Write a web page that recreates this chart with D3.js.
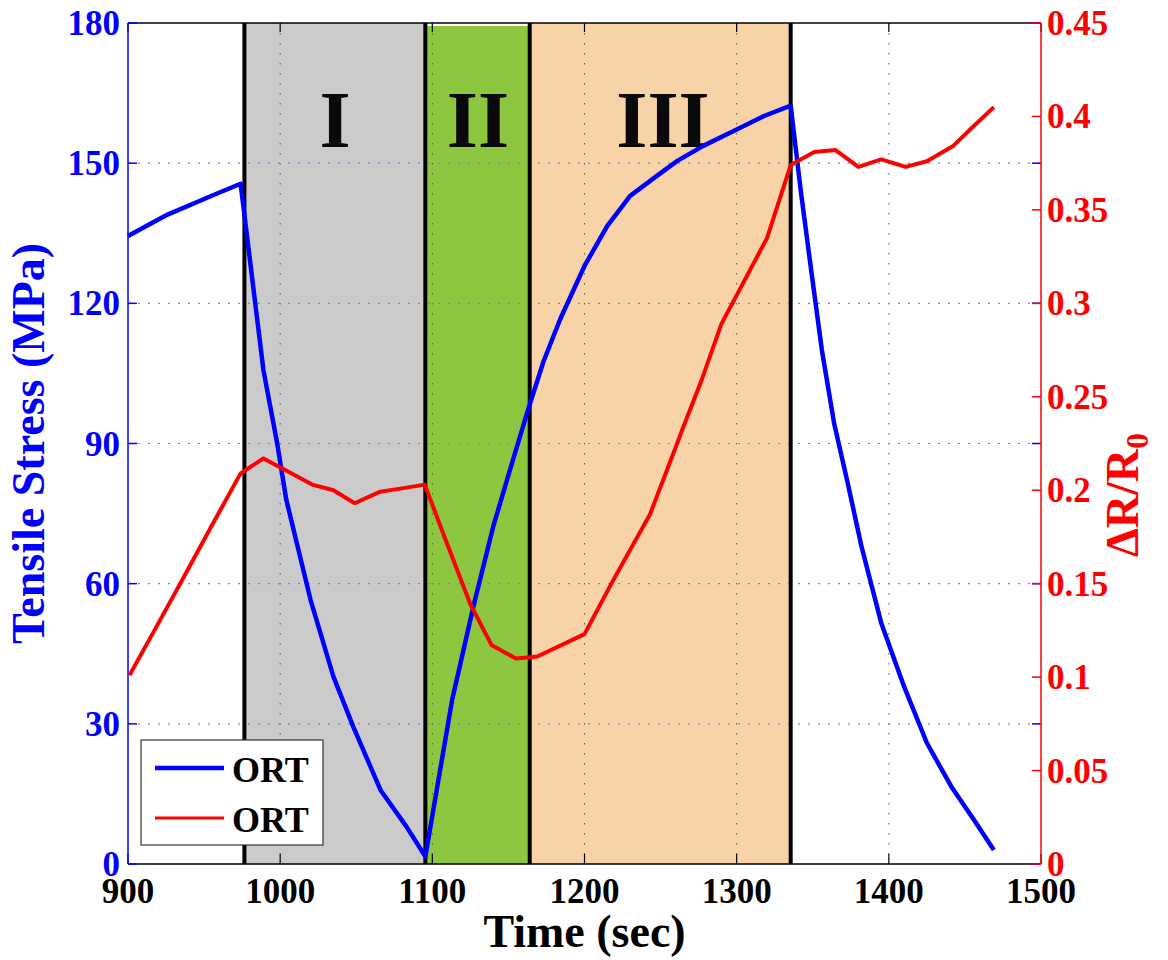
<html>
<head>
<script src="https://cdn.jsdelivr.net/npm/d3@7"></script>
<style>
  body { margin: 0; background: #fff; }
  text { font-family: "Liberation Serif", "Times New Roman", serif; font-weight: bold; }
</style>
</head>
<body>
<div id="chart"></div>
<script>
// stress curve (MPa) vs time (sec)
var stressTime = [900, 926, 957, 974, 989, 998, 1004, 1020, 1035, 1048, 1066, 1083, 1095.4,
  1113, 1127, 1140, 1153, 1163, 1173, 1184, 1200, 1215, 1230, 1246, 1261, 1278, 1298, 1318, 1335.5,
  1342, 1349, 1356, 1364, 1373, 1382, 1395, 1410, 1425, 1441, 1456, 1469]
var stressVals = [134.4, 139, 143.3, 145.6, 105.7, 90.1, 78, 56.5, 40.1, 29.4, 15.8, 8, 1.6,
  35.1, 55.1, 72.2, 86.5, 97.3, 107.5, 116.6, 128, 136.6, 143, 146.9, 150.5, 153.7, 156.9, 160.1, 162.3,
  144.4, 127, 110, 94.4, 81.5, 68, 51.6, 38, 25.9, 16.6, 9.4, 3]

// resistance change dR/R0 vs time (sec)
var resTime = [901, 916, 935, 955, 974, 989, 1003, 1021, 1035, 1049, 1065, 1080, 1095,
  1108, 1125, 1139, 1155, 1169, 1200, 1219, 1243, 1259, 1265, 1277, 1290, 1320, 1335.5,
  1351, 1365, 1380, 1395, 1411, 1425, 1442, 1456, 1469]
var resVals = [0.101, 0.123, 0.151, 0.181, 0.209, 0.217, 0.211, 0.203, 0.2, 0.193, 0.199, 0.201, 0.203,
  0.175, 0.139, 0.117, 0.110, 0.111, 0.123, 0.152, 0.187, 0.221, 0.234, 0.259, 0.289, 0.335, 0.374,
  0.381, 0.382, 0.373, 0.377, 0.373, 0.376, 0.384, 0.395, 0.405]

// stage boundaries (sec) and names
var stageEdges = [976.5, 1095.4, 1164, 1335.5]
var stageNames = ["I", "II", "III"]
var stageColors = ["#cbcbcb", "#8dc63f", "#f9d3a8"]

var xTicks = [900, 1000, 1100, 1200, 1300, 1400, 1500]
var leftTicks = [0, 30, 60, 90, 120, 150, 180]
var rightTicks = [0, 0.05, 0.1, 0.15, 0.2, 0.25, 0.3, 0.35, 0.4, 0.45]
var legendNames = ["ORT", "ORT"]

var W = 1168, H = 960
var pL = 128, pR = 1041, pT = 23, pB = 864

var x = d3.scaleLinear().domain([900, 1500]).range([pL, pR])
var yL = d3.scaleLinear().domain([0, 180]).range([pB, pT])
var yR = d3.scaleLinear().domain([0, 0.45]).range([pB, pT])

var svg = d3.select("#chart").append("svg")
  .attr("width", W).attr("height", H)

// stage fills
var stages = stageNames.map(function(n, i){
  return { name: n, x0: stageEdges[i], x1: stageEdges[i + 1], color: stageColors[i] }
})
svg.selectAll(".stage").data(stages).enter().append("rect")
  .attr("class", "stage")
  .attr("x", function(d){ return x(d.x0) })
  .attr("width", function(d){ return x(d.x1) - x(d.x0) })
  .attr("y", function(d, i){ return i == 1 ? pT + 3 : pT })
  .attr("height", function(d, i){ return i == 1 ? pB - pT - 3 : pB - pT })
  .style("fill", function(d){ return d.color })

// grid
svg.selectAll(".vgrid").data(xTicks.slice(1, -1)).enter().append("line")
  .attr("x1", function(d){ return x(d) }).attr("x2", function(d){ return x(d) })
  .attr("y1", pT).attr("y2", pB)
  .style("stroke", "#555").style("stroke-width", 1).style("stroke-dasharray", "1.5,8.5")
svg.selectAll(".hgrid").data(leftTicks.slice(1, -1)).enter().append("line")
  .attr("x1", pL).attr("x2", pR)
  .attr("y1", function(d){ return yL(d) }).attr("y2", function(d){ return yL(d) })
  .style("stroke", "#7a7aff").style("stroke-width", 1.2).style("stroke-dasharray", "2,8")

// stage boundaries
svg.selectAll(".edge").data(stageEdges).enter().append("line")
  .attr("x1", function(d){ return x(d) }).attr("x2", function(d){ return x(d) })
  .attr("y1", pT).attr("y2", pB)
  .style("stroke", "#000").style("stroke-width", 4)

// stage labels
svg.selectAll(".stagelabel").data(stages).enter().append("text")
  .attr("x", function(d, i){ return [335, 478, 663][i] })
  .attr("y", 147)
  .attr("text-anchor", "middle")
  .style("font-size", "80px").style("fill", "#0a0a0a")
  .text(function(d){ return d.name })

// frame
svg.append("line").attr("x1", pL).attr("x2", pR).attr("y1", pT).attr("y2", pT)
  .style("stroke", "#000").style("stroke-width", 1.5)
svg.append("line").attr("x1", pL).attr("x2", pR).attr("y1", pB).attr("y2", pB)
  .style("stroke", "#000").style("stroke-width", 1.5)

// x axis ticks (bottom and top, inward)
svg.selectAll(".xt").data(xTicks).enter().append("line")
  .attr("x1", function(d){ return x(d) }).attr("x2", function(d){ return x(d) })
  .attr("y1", pB).attr("y2", pB - 10)
  .style("stroke", "#000").style("stroke-width", 1.2)
svg.selectAll(".xtt").data(xTicks).enter().append("line")
  .attr("x1", function(d){ return x(d) }).attr("x2", function(d){ return x(d) })
  .attr("y1", pT).attr("y2", pT + 9)
  .style("stroke", "#000").style("stroke-width", 1.2)
svg.selectAll(".xl").data(xTicks).enter().append("text")
  .attr("x", function(d){ return x(d) }).attr("y", 903)
  .attr("text-anchor", "middle").style("font-size", "35px").style("fill", "#000")
  .text(function(d){ return d })

// left axis
svg.append("line").attr("x1", pL).attr("x2", pL).attr("y1", pT).attr("y2", pB)
  .style("stroke", "#0000ff").style("stroke-width", 1.5)
svg.selectAll(".lt").data(leftTicks).enter().append("line")
  .attr("x1", pL).attr("x2", pL + 9)
  .attr("y1", function(d){ return yL(d) }).attr("y2", function(d){ return yL(d) })
  .style("stroke", "#0000ff").style("stroke-width", 1.5)
svg.selectAll(".ltr").data(leftTicks).enter().append("line")
  .attr("x1", pR).attr("x2", pR - 9)
  .attr("y1", function(d){ return yL(d) }).attr("y2", function(d){ return yL(d) })
  .style("stroke", "#0000ff").style("stroke-width", 1.5)
svg.selectAll(".ll").data(leftTicks).enter().append("text")
  .attr("x", 120).attr("y", function(d){ return yL(d) + 12 })
  .attr("text-anchor", "end").style("font-size", "35px").style("fill", "#0000ff")
  .text(function(d){ return d })

// right axis
svg.append("line").attr("x1", pR).attr("x2", pR).attr("y1", pT).attr("y2", pB)
  .style("stroke", "#ff0000").style("stroke-width", 1.5)
svg.selectAll(".rt").data(rightTicks).enter().append("line")
  .attr("x1", pR).attr("x2", pR - 9)
  .attr("y1", function(d){ return yR(d) }).attr("y2", function(d){ return yR(d) })
  .style("stroke", "#ff0000").style("stroke-width", 1.5)
svg.selectAll(".rl").data(rightTicks).enter().append("text")
  .attr("x", 1047).attr("y", function(d){ return yR(d) + 12 })
  .style("font-size", "35px").style("fill", "#ff0000")
  .text(function(d){ return d })

// curves
var stressLine = d3.line()
  .x(function(d){ return x(d[0]) }).y(function(d){ return yL(d[1]) })
var resLine = d3.line()
  .x(function(d){ return x(d[0]) }).y(function(d){ return yR(d[1]) })

svg.append("path").datum(d3.zip(stressTime, stressVals))
  .attr("d", stressLine)
  .style("fill", "none").style("stroke", "#0000ff").style("stroke-width", 4.5)
  .style("stroke-linejoin", "round")
svg.append("path").datum(d3.zip(resTime, resVals))
  .attr("d", resLine)
  .style("fill", "none").style("stroke", "#ff0000").style("stroke-width", 4)
  .style("stroke-linejoin", "round")

// axis titles
svg.append("text")
  .attr("transform", "translate(44," + ((pT + pB) / 2) + ") rotate(-90)")
  .attr("text-anchor", "middle").style("font-size", "46px").style("fill", "#0000ff")
  .text("Tensile Stress (MPa)")
svg.append("text")
  .attr("x", (pL + pR) / 2).attr("y", 947)
  .attr("text-anchor", "middle").style("font-size", "46px").style("fill", "#000")
  .text("Time (sec)")
var rTitle = svg.append("text")
  .attr("transform", "translate(1138,495) rotate(-90)")
  .attr("text-anchor", "middle").style("font-size", "46px").style("fill", "#ff0000")
rTitle.append("tspan").text("\u0394R/R")
rTitle.append("tspan").attr("dy", 10).style("font-size", "32px").text("0")

// legend
var lg = svg.append("g")
lg.append("rect").attr("x", 141).attr("y", 740).attr("width", 182).attr("height", 105)
  .style("fill", "#fff").style("stroke", "#333").style("stroke-width", 1.2)
var legendColors = ["#0000ff", "#ff0000"]
lg.selectAll(".li").data(legendNames).enter().append("line")
  .attr("x1", 155).attr("x2", 224)
  .attr("y1", function(d, i){ return 768 + i * 50 }).attr("y2", function(d, i){ return 768 + i * 50 })
  .style("stroke", function(d, i){ return legendColors[i] })
  .style("stroke-width", function(d, i){ return i == 0 ? 4.5 : 3 })
lg.selectAll(".lt2").data(legendNames).enter().append("text")
  .attr("x", 232).attr("y", function(d, i){ return 782 + i * 50 })
  .style("font-size", "36px").style("fill", "#000")
  .text(function(d){ return d })
</script>
</body>
</html>
